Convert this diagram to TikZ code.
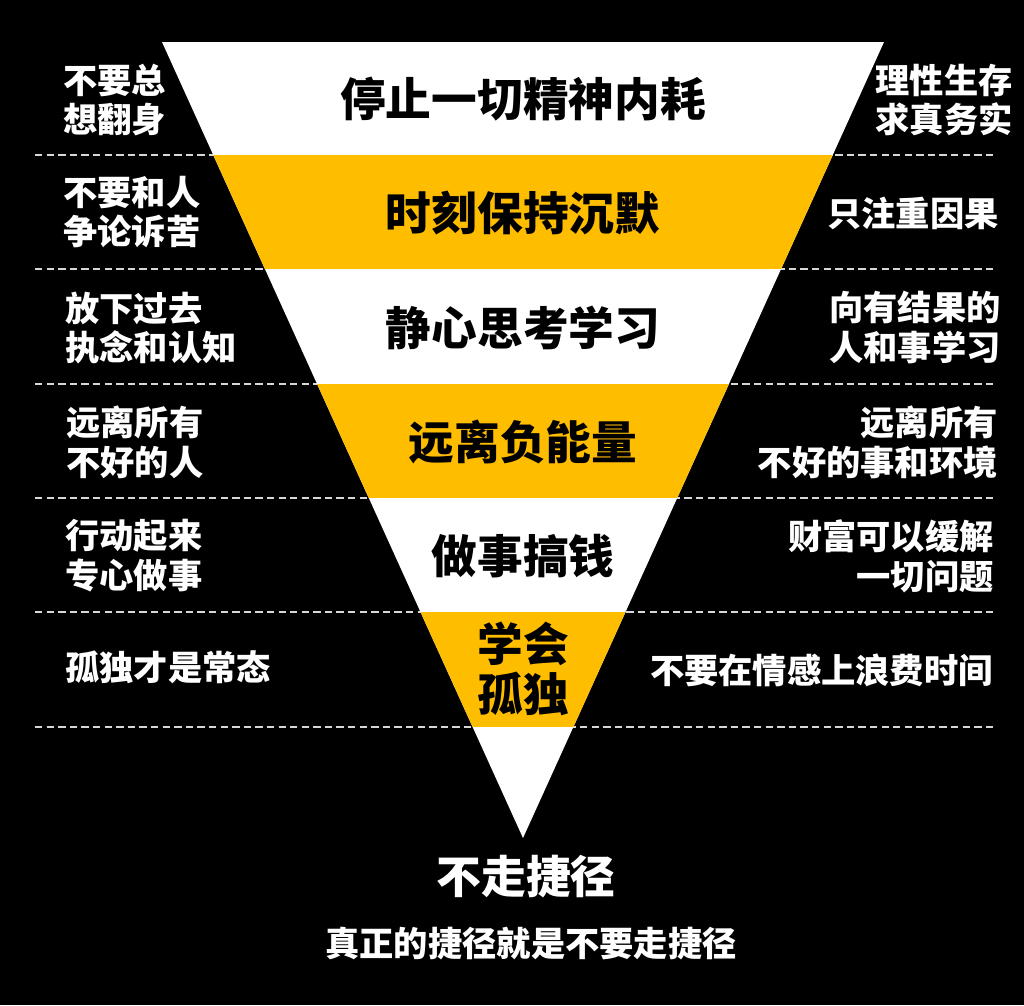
\documentclass[tikz,border=0pt]{standalone}
\usepackage{fontspec}
\newfontfamily\cjk{Noto Sans CJK SC}
\definecolor{gold}{RGB}{255,189,0}
\definecolor{dashgray}{RGB}{215,215,215}

\begin{document}
\begin{tikzpicture}[
    x=0.02cm, y=-0.02cm,
    band/.style={font=\cjk\bfseries\fontsize{26}{30}\selectfont, text=black, align=center, inner sep=0pt},
    lside/.style={font=\cjk\bfseries\fontsize{19.5}{22.7}\selectfont, text=white, align=left, anchor=west, inner sep=0pt},
    rside/.style={font=\cjk\bfseries\fontsize{19.5}{22.7}\selectfont, text=white, align=right, anchor=east, inner sep=0pt},
    sep/.style={dashgray, line width=0.85pt, dash pattern=on 4.2pt off 2.4pt}
  ]

  % 背景
  \fill[black] (0,0) rectangle (1024,1005);
  \useasboundingbox (0,0) rectangle (1024,1005);

  % 分隔虚线
  \foreach \y in {155,269,384,498,612,727}
    \draw[sep] (35,\y) -- (997,\y);

  % 倒三角
  \begin{scope}
    \clip (162,42) -- (884,42) -- (523,838) -- cycle;
    \fill[white] (0,42) rectangle (1024,838);
    \foreach \a/\b in {155/269,384/498,612/727}
      \fill[gold] (0,\a) rectangle (1024,\b);
  \end{scope}

  % 中间各层
  \node[band] (band1) at (523,99)  {停止一切精神内耗};
  \node[band] (band2) at (523,213) {时刻保持沉默};
  \node[band] (band3) at (523,328) {静心思考学习};
  \node[band] (band4) at (523,442) {远离负能量};
  \node[band] (band5) at (523,556) {做事搞钱};
  \node[band, font=\cjk\bfseries\fontsize{26}{28.5}\selectfont] (band6) at (523,669) {学会\\孤独};

  % 左侧
  \node[lside] (l1) at (63,100) {不要总\\想翻身};
  \node[lside] (l2) at (63,212) {不要和人\\争论诉苦};
  \node[lside] (l3) at (65,328) {放下过去\\执念和认知};
  \node[lside] (l4) at (66,442) {远离所有\\不好的人};
  \node[lside] (l5) at (65,556) {行动起来\\专心做事};
  \node[lside] (l6) at (65,667) {孤独才是常态};

  % 右侧
  \node[rside] (r1) at (1013,100) {理性生存\\求真务实};
  \node[rside] (r2) at (999,213)  {只注重因果};
  \node[rside] (r3) at (1001,327) {向有结果的\\人和事学习};
  \node[rside] (r4) at (998,442)  {远离所有\\不好的事和环境};
  \node[rside] (r5) at (994,556)  {财富可以缓解\\一切问题};
  \node[rside] (r6) at (993,670)  {不要在情感上浪费时间};

  % 底部
  \node[band, text=white, font=\cjk\bfseries\fontsize{25.5}{30}\selectfont] (title) at (526,877) {不走捷径};
  \node[band, text=white, font=\cjk\bfseries\fontsize{19.5}{22.7}\selectfont] (motto) at (531,943) {真正的捷径就是不要走捷径};

\end{tikzpicture}
\end{document}
